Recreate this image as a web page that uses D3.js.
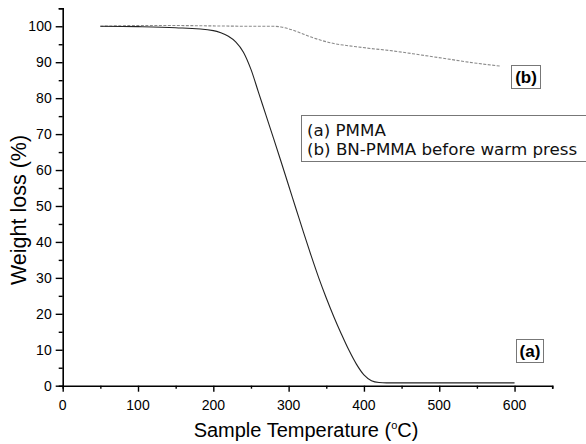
<!DOCTYPE html>
<html>
<head>
<meta charset="utf-8">
<script src="https://cdn.jsdelivr.net/npm/d3@7"></script>
<style>
  body { margin: 0; background: #fff; }
  text { font-family: "Liberation Sans", Arial, sans-serif; }
  text.legend { font-family: "DejaVu Sans", sans-serif; }
</style>
</head>
<body>
<svg id="chart"></svg>
<script>
const width = 586;
const height = 444;

// (a) PMMA
const pmmaTemp = [50, 100, 150, 200, 210, 220, 230, 240, 250, 260, 270, 280, 290, 300, 310, 320, 330, 340, 350, 360, 370, 380, 390, 400, 410, 420, 430, 500, 600];
const pmmaLoss = [100, 99.9, 99.6, 98.8, 98.2, 97.2, 95.6, 92.8, 88.0, 81.6, 75.2, 68.8, 62.3, 55.7, 49.1, 42.5, 36.1, 30.0, 24.4, 19.2, 14.4, 9.9, 6.0, 3.0, 1.4, 0.9, 0.8, 0.8, 0.8];

// (b) BN-PMMA before warm press
const bnTemp = [50, 100, 150, 200, 250, 280, 290, 300, 310, 320, 330, 340, 350, 360, 375, 390, 410, 440, 470, 505, 550, 582];
const bnLoss = [100, 100.2, 100.2, 100.1, 100, 100, 99.8, 99.3, 98.6, 97.8, 97.0, 96.3, 95.7, 95.2, 94.7, 94.3, 93.8, 93.1, 92.2, 91.1, 89.7, 88.9];

const xTicks = [0, 100, 200, 300, 400, 500, 600];
const yTicks = [0, 10, 20, 30, 40, 50, 60, 70, 80, 90, 100];
const legendLines = ['(a) PMMA', '(b) BN-PMMA before warm press'];

const svg = d3.select('#chart')
  .attr('width', width)
  .attr('height', height);

const xScale = d3.scaleLinear()
  .domain([0, 650])
  .range([62.7, 552.2]);

const yScale = d3.scaleLinear()
  .domain([0, 105])
  .range([385.7, 8.3]);

// Bottom temperature axis
const xAxis = svg.append('g')
  .attr('transform', `translate(0, ${yScale(0)})`);
xAxis.call(d3.axisBottom(xScale).tickValues(d3.range(0, 651, 50)).tickSize(3).tickFormat(''));
xAxis.call((g) => g.selectAll('.tick').filter((d) => d % 100 === 0).select('line').attr('y2', 6));
xAxis.selectAll('.label')
  .data(xTicks)
  .enter()
  .append('text')
  .attr('x', (d) => xScale(d))
  .attr('y', 24)
  .attr('text-anchor', 'middle')
  .attr('font-size', 14)
  .attr('fill', '#000')
  .text((d) => d);

// Left weight axis
const yAxis = svg.append('g')
  .attr('transform', `translate(${xScale(0)}, 0)`);
yAxis.call(d3.axisLeft(yScale).tickValues(d3.range(0, 106, 5)).tickSize(4).tickFormat(''));
yAxis.call((g) => g.selectAll('.tick').filter((d) => d % 10 === 0).select('line').attr('x2', -7));
yAxis.selectAll('.label')
  .data(yTicks)
  .enter()
  .append('text')
  .attr('x', -11)
  .attr('y', (d) => yScale(d) + 5)
  .attr('text-anchor', 'end')
  .attr('font-size', 14)
  .attr('fill', '#000')
  .text((d) => d);

svg.selectAll('.domain').attr('stroke-width', 1.6);
svg.selectAll('.tick line').attr('stroke-width', 1.4);

// Axis titles
svg.append('text')
  .attr('x', 306)
  .attr('y', 437)
  .attr('text-anchor', 'middle')
  .attr('font-size', 20)
  .html('Sample Temperature (<tspan font-size="11" dy="-8">o</tspan><tspan dy="8">C)</tspan>');

svg.append('text')
  .attr('transform', 'translate(26, 210) rotate(-90)')
  .attr('text-anchor', 'middle')
  .attr('font-size', 21.5)
  .text('Weight loss (%)');

const line = d3.line()
  .x((d) => xScale(d[0]))
  .y((d) => yScale(d[1]))
  .curve(d3.curveMonotoneX);

svg.append('path')
  .datum(bnTemp.map((t, i) => [t, bnLoss[i]]))
  .attr('d', line)
  .attr('fill', 'none')
  .attr('stroke', '#8a8a8a')
  .attr('stroke-width', 1.1)
  .attr('stroke-dasharray', '3,1.5');

svg.append('path')
  .datum(pmmaTemp.map((t, i) => [t, pmmaLoss[i]]))
  .attr('d', line)
  .attr('fill', 'none')
  .attr('stroke', '#222')
  .attr('stroke-width', 1.1);

// Legend box
const legend = svg.append('g');
legend.append('rect')
  .attr('x', 301.5)
  .attr('y', 115.5)
  .attr('width', 300)
  .attr('height', 46)
  .attr('fill', '#fff')
  .attr('stroke', '#777')
  .attr('stroke-width', 1);
legend.selectAll('text')
  .data(legendLines)
  .enter()
  .append('text')
  .attr('class', 'legend')
  .attr('x', 307)
  .attr('y', (d, i) => 135.5 + i * 19.3)
  .attr('font-size', 16.7)
  .attr('fill', '#111')
  .text((d) => d);

// Curve tags
const tags = [
  {label: '(b)', x: 511.5, y: 65.5, w: 29, h: 23},
  {label: '(a)', x: 516.5, y: 339.5, w: 27, h: 23}
];
tags.forEach((t) => {
  svg.append('rect')
    .attr('x', t.x)
    .attr('y', t.y)
    .attr('width', t.w)
    .attr('height', t.h)
    .attr('fill', '#fff')
    .attr('stroke', '#777');
  svg.append('text')
    .attr('x', t.x + t.w / 2)
    .attr('y', t.y + t.h / 2 + 6)
    .attr('text-anchor', 'middle')
    .attr('font-size', 17)
    .attr('font-weight', 'bold')
    .text(t.label);
});
</script>
</body>
</html>
